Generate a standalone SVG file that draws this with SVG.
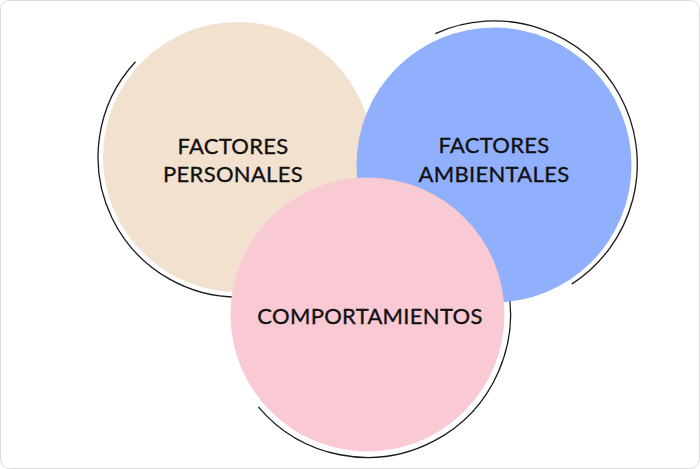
<svg xmlns="http://www.w3.org/2000/svg" width="700" height="469" viewBox="0 0 700 469">
<style>
.arc{fill:none;stroke:#1a1a1a;stroke-width:1.3}
.lbl{font-family:"Lato","Liberation Sans",sans-serif;font-size:22px;fill:#111;stroke:#111;stroke-width:0.35;text-anchor:middle;letter-spacing:0.3px}
</style>
<rect x="0.5" y="0.5" width="699" height="468" rx="9" fill="#fff" stroke="#dcdcdc"/>
<g id="connectors">
<path class="arc" d="M135.5,61.7 A140,140 0 0 0 250.2,296.5"/>
<path class="arc" d="M435.3,33.6 A143,143 0 0 1 571.7,284.1"/>
<path class="arc" d="M505.6,277.5 A143,143 0 0 1 258.3,406.8"/>
</g>
<g id="personales">
<circle cx="238" cy="157" r="135" fill="#F3E1D0"/>
<text class="lbl" x="233" y="154">FACTORES</text>
<text class="lbl" x="233" y="182">PERSONALES</text>
</g>
<g id="ambientales">
<circle cx="494" cy="165" r="137.5" fill="#90AFFC"/>
<text class="lbl" x="494" y="153">FACTORES</text>
<text class="lbl" x="494" y="182">AMBIENTALES</text>
</g>
<g id="comportamientos">
<circle cx="367.5" cy="314.5" r="137" fill="#F9CAD3"/>
<text class="lbl" x="370" y="324">COMPORTAMIENTOS</text>
</g>
</svg>
